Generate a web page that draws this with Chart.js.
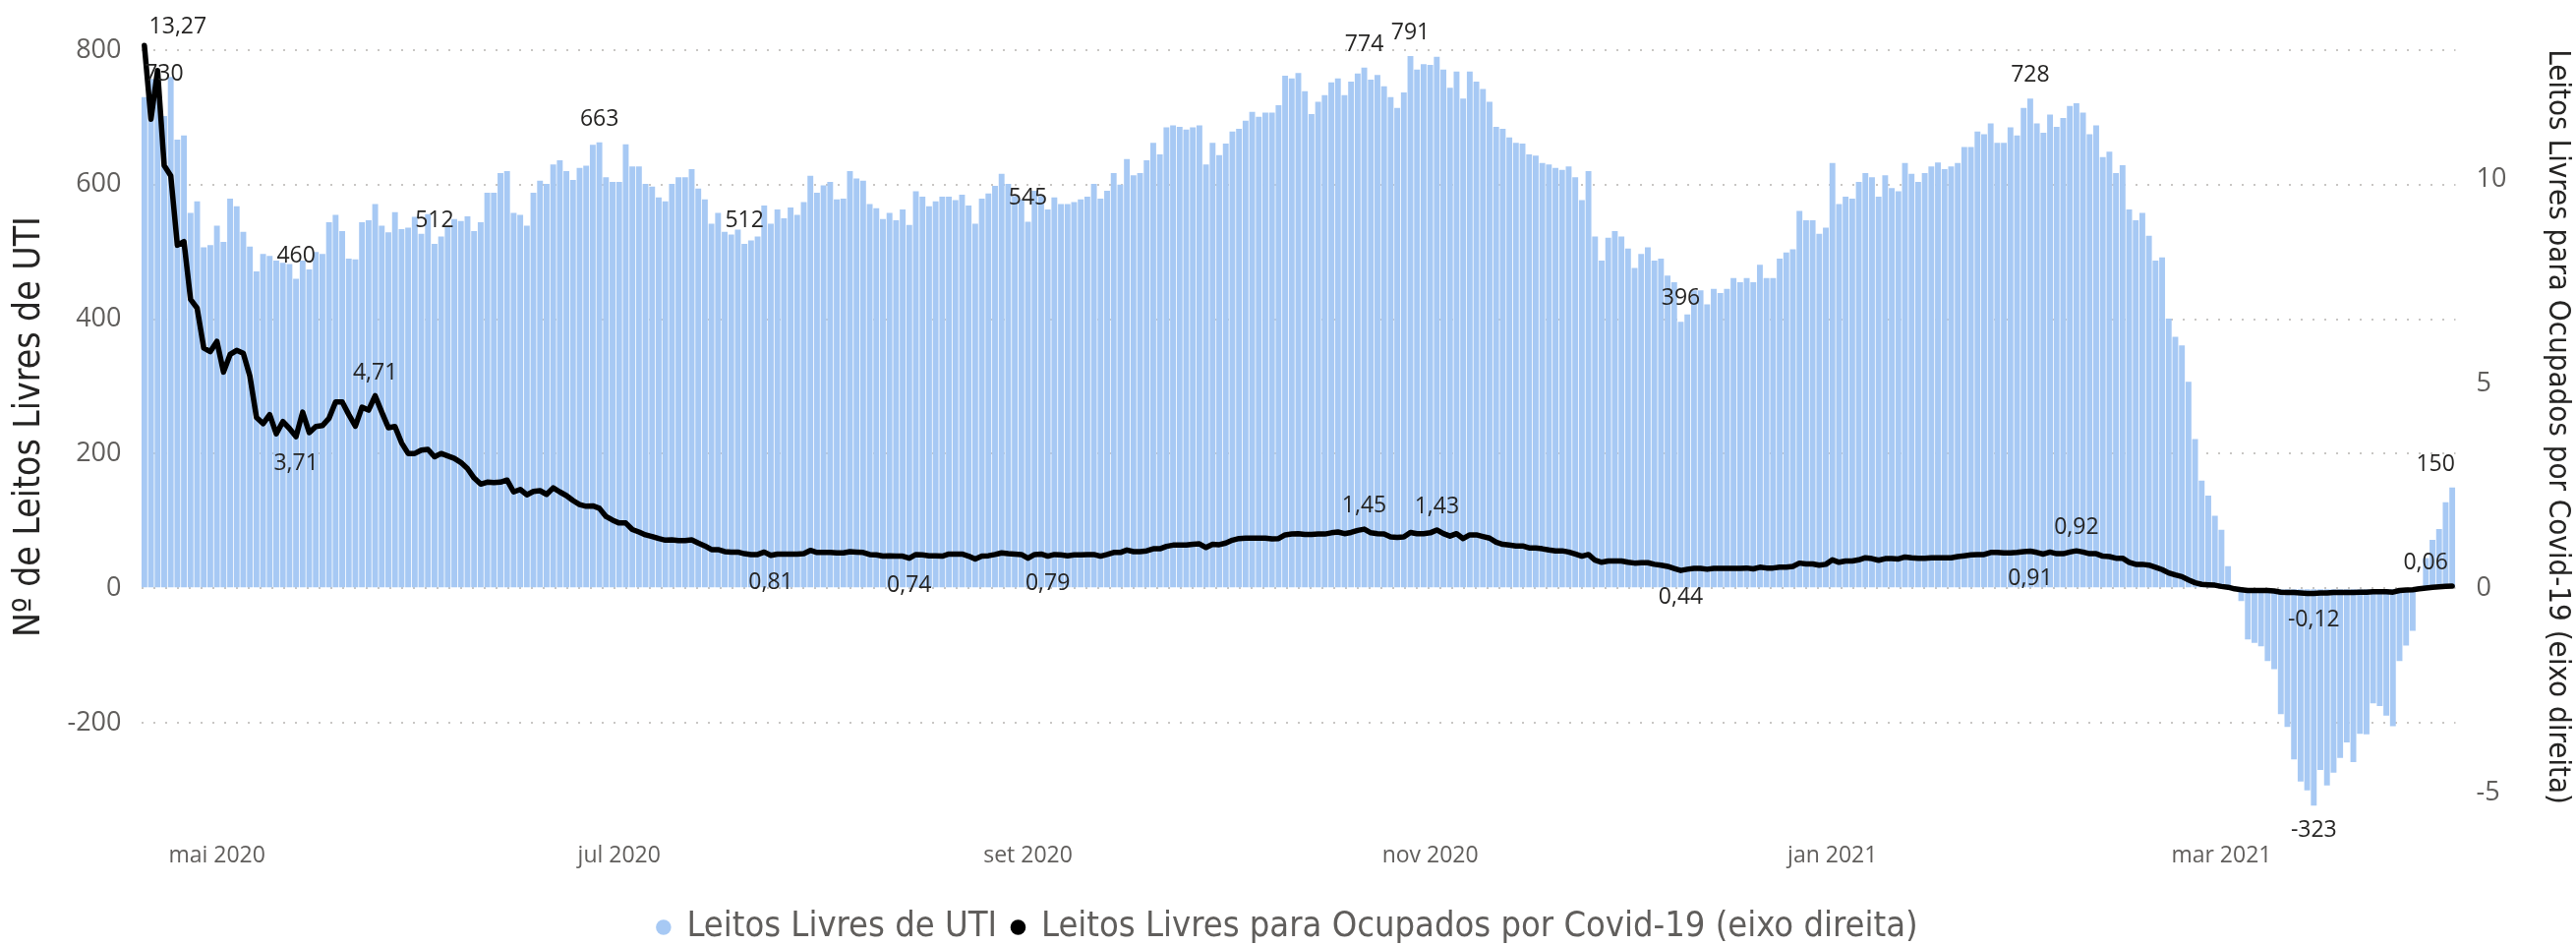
<!DOCTYPE html>
<html>
<head>
<meta charset="utf-8">
<script src="https://cdn.jsdelivr.net/npm/chart.js@4.4.1/dist/chart.umd.min.js"></script>
<style>
  html, body { margin: 0; padding: 0; background: #fff; }
</style>
</head>
<body>
<canvas id="chart" width="2620" height="961"></canvas>
<script>
// daily series, one value per day starting at startDate
const startDate = '2020-04-20';

const leitosLivres = [
    730, 757, 745, 702, 760, 667, 673, 558, 575, 507,
    510, 539, 515, 579, 568, 530, 508, 471, 497, 494,
    487, 484, 482, 460, 487, 474, 500, 497, 544, 555,
    531, 490, 489, 544, 547, 571, 539, 529, 559, 534,
    536, 552, 527, 556, 512, 523, 537, 549, 546, 553,
    531, 544, 588, 588, 617, 620, 558, 555, 539, 588,
    606, 601, 630, 636, 620, 607, 625, 628, 659, 663,
    611, 604, 604, 660, 627, 627, 601, 597, 581, 575,
    601, 611, 611, 623, 594, 578, 542, 558, 530, 526,
    533, 512, 517, 523, 569, 542, 563, 550, 566, 555,
    574, 613, 588, 599, 604, 578, 579, 620, 609, 606,
    571, 565, 549, 558, 547, 563, 540, 590, 582, 568,
    575, 582, 582, 577, 585, 569, 542, 579, 587, 598,
    616, 601, 583, 578, 545, 591, 583, 563, 581, 571,
    571, 574, 578, 582, 601, 579, 591, 617, 600, 638,
    614, 617, 636, 662, 645, 685, 688, 686, 682, 685,
    688, 630, 662, 644, 661, 679, 683, 695, 708, 701,
    707, 707, 718, 762, 758, 766, 739, 705, 723, 733,
    752, 758, 733, 753, 765, 774, 756, 763, 746, 730,
    714, 737, 791, 771, 779, 778, 790, 771, 744, 768,
    728, 768, 753, 742, 723, 686, 683, 670, 662, 661,
    645, 643, 632, 630, 625, 622, 627, 611, 577, 620,
    523, 487, 521, 531, 523, 505, 476, 497, 507, 487,
    490, 465, 455, 396, 407, 443, 443, 422, 445, 439,
    445, 461, 455, 461, 455, 481, 461, 461, 490, 499,
    504, 561, 547, 547, 527, 536, 632, 571, 582, 579,
    604, 617, 611, 582, 614, 595, 590, 632, 616, 604,
    617, 627, 633, 623, 627, 632, 656, 656, 679, 675,
    691, 662, 662, 685, 673, 714, 728, 691, 677, 704,
    686, 699, 717, 721, 707, 675, 688, 641, 649, 617,
    629, 563, 547, 558, 524, 487, 492, 401, 374, 361,
    307, 222, 160, 138, 108, 87, 33, 2, -19, -76,
    -81, -86, -108, -120, -187, -206, -254, -287, -300, -323,
    -270, -293, -274, -252, -229, -258, -216, -217, -171, -175,
    -189, -205, -108, -85, -63, 3, 45, 72, 88, 128,
    150
];

const livresPorOcupados = [
    13.27, 11.47, 12.66, 10.34, 10.09, 8.39, 8.48, 7.07, 6.85, 5.88,
    5.79, 6.04, 5.29, 5.72, 5.82, 5.75, 5.19, 4.18, 4.03, 4.25,
    3.78, 4.08, 3.91, 3.71, 4.31, 3.81, 3.96, 3.98, 4.16, 4.56,
    4.56, 4.25, 3.97, 4.43, 4.36, 4.71, 4.31, 3.93, 3.96, 3.56,
    3.30, 3.30, 3.38, 3.40, 3.22, 3.30, 3.24, 3.18, 3.08, 2.93,
    2.70, 2.55, 2.60, 2.59, 2.60, 2.65, 2.36, 2.42, 2.29, 2.37,
    2.39, 2.30, 2.46, 2.36, 2.27, 2.15, 2.05, 2.01, 2.02, 1.96,
    1.76, 1.67, 1.60, 1.60, 1.44, 1.38, 1.31, 1.27, 1.22, 1.18,
    1.19, 1.17, 1.17, 1.19, 1.11, 1.04, 0.95, 0.95, 0.90, 0.89,
    0.89, 0.85, 0.83, 0.83, 0.89, 0.81, 0.84, 0.84, 0.84, 0.84,
    0.85, 0.93, 0.88, 0.88, 0.88, 0.87, 0.87, 0.90, 0.89, 0.88,
    0.83, 0.82, 0.79, 0.80, 0.79, 0.79, 0.74, 0.83, 0.82, 0.80,
    0.80, 0.79, 0.84, 0.84, 0.84, 0.79, 0.72, 0.79, 0.80, 0.83,
    0.87, 0.85, 0.84, 0.83, 0.74, 0.83, 0.84, 0.79, 0.83, 0.82,
    0.80, 0.82, 0.82, 0.83, 0.83, 0.79, 0.83, 0.88, 0.88, 0.94,
    0.90, 0.90, 0.92, 0.97, 0.97, 1.03, 1.06, 1.06, 1.06, 1.08,
    1.09, 1.00, 1.08, 1.07, 1.11, 1.18, 1.22, 1.23, 1.23, 1.23,
    1.23, 1.21, 1.22, 1.31, 1.33, 1.34, 1.32, 1.32, 1.33, 1.33,
    1.36, 1.38, 1.34, 1.37, 1.42, 1.45, 1.36, 1.34, 1.33, 1.26,
    1.25, 1.26, 1.37, 1.34, 1.34, 1.36, 1.43, 1.34, 1.28, 1.34,
    1.22, 1.31, 1.31, 1.27, 1.23, 1.13, 1.08, 1.06, 1.04, 1.04,
    0.99, 0.99, 0.97, 0.94, 0.92, 0.92, 0.89, 0.84, 0.79, 0.83,
    0.69, 0.64, 0.67, 0.67, 0.67, 0.64, 0.62, 0.63, 0.63, 0.59,
    0.57, 0.54, 0.49, 0.44, 0.47, 0.49, 0.49, 0.47, 0.49, 0.49,
    0.49, 0.49, 0.49, 0.50, 0.48, 0.52, 0.50, 0.50, 0.52, 0.52,
    0.54, 0.62, 0.60, 0.60, 0.57, 0.59, 0.70, 0.64, 0.67, 0.67,
    0.70, 0.75, 0.73, 0.69, 0.73, 0.73, 0.72, 0.77, 0.75, 0.74,
    0.74, 0.75, 0.75, 0.75, 0.75, 0.78, 0.80, 0.82, 0.83, 0.83,
    0.88, 0.88, 0.87, 0.87, 0.88, 0.90, 0.91, 0.88, 0.84, 0.89,
    0.85, 0.85, 0.89, 0.92, 0.89, 0.85, 0.85, 0.79, 0.78, 0.74,
    0.74, 0.64, 0.59, 0.59, 0.57, 0.52, 0.46, 0.38, 0.33, 0.29,
    0.21, 0.14, 0.10, 0.09, 0.08, 0.05, 0.03, -0.01, -0.03, -0.05,
    -0.05, -0.05, -0.05, -0.06, -0.09, -0.10, -0.10, -0.11, -0.12, -0.12,
    -0.11, -0.11, -0.10, -0.10, -0.10, -0.10, -0.09, -0.09, -0.08, -0.08,
    -0.08, -0.09, -0.05, -0.04, -0.03, -0.01, 0.01, 0.03, 0.04, 0.05,
    0.06
];

// month tick labels (pt-BR), keyed by the first day of the month
const monthTicks = {
    '2020-05-01': 'mai 2020',
    '2020-07-01': 'jul 2020',
    '2020-09-01': 'set 2020',
    '2020-11-01': 'nov 2020',
    '2021-01-01': 'jan 2021',
    '2021-03-01': 'mar 2021'
};
const leftTicks = [-200, 0, 200, 400, 600, 800];
const rightTicks = [-5, 0, 5, 10];

// which days get a data label
const barLabelIdx = [0, 23, 44, 69, 91, 134, 185, 192, 233, 286, 329, 350];
const lineLabelIdx = [0, 23, 35, 95, 116, 137, 185, 196, 233, 286, 293, 329, 350];

const days = [];
const t0 = Date.parse(startDate + 'T00:00:00Z');
for (let i = 0; i < leitosLivres.length; i++) {
    days.push(new Date(t0 + i * 86400000).toISOString().slice(0, 10));
}

const TICK_FONT = '"Open Sans", "Noto Sans", sans-serif';
const TITLE_FONT = '"Liberation Sans Narrow", "DejaVu Sans Condensed", sans-serif';
const GREY = '#605e5c';

// label placement tweaks (where Power BI nudged them)
const barLabelStyle = { 0: { dx: 20 }, 329: { below: true }, 350: { dx: -17 } };
const lineLabelStyle = {
    0: { dx: 34, gap: 7 }, 23: { below: true }, 95: { below: true }, 116: { below: true },
    137: { below: true }, 233: { below: true }, 286: { below: true }, 329: { below: true },
    350: { dx: -27 }
};

const fmtLine = v => v.toFixed(2).replace('.', ',');

const valueLabels = {
    id: 'valueLabels',
    afterDatasetsDraw(chart) {
        const ctx = chart.ctx;
        const barMeta = chart.getDatasetMeta(0);
        const lineMeta = chart.getDatasetMeta(1);
        ctx.save();
        ctx.font = '23px ' + TICK_FONT;
        ctx.fillStyle = '#252423';
        ctx.textAlign = 'center';
        barLabelIdx.forEach(i => {
            const el = barMeta.data[i];
            const st = barLabelStyle[i] || {};
            const x = el.x + (st.dx || 0);
            if (st.below) {
                ctx.textBaseline = 'top';
                ctx.fillText(String(leitosLivres[i]), x, el.y + 14);
            } else {
                ctx.textBaseline = 'bottom';
                ctx.fillText(String(leitosLivres[i]), x, el.y - 12);
            }
        });
        lineLabelIdx.forEach(i => {
            const pt = lineMeta.data[i];
            const st = lineLabelStyle[i] || {};
            const x = pt.x + (st.dx || 0);
            if (st.below) {
                ctx.textBaseline = 'top';
                ctx.fillText(fmtLine(livresPorOcupados[i]), x, pt.y + 16);
            } else {
                ctx.textBaseline = 'bottom';
                ctx.fillText(fmtLine(livresPorOcupados[i]), x, pt.y - (st.gap || 12));
            }
        });
        ctx.restore();
    }
};

// shrink the legend box so it sits close to the bottom edge
const legendFit = {
    id: 'legendFit',
    beforeInit(chart) {
        const fit = chart.legend.fit;
        chart.legend.fit = function () {
            fit.call(this);
            this.height = 52;
        };
    }
};

const ctx = document.getElementById('chart');
const myChart = new Chart(ctx, {
    type: 'bar',
    data: {
        labels: days,
        datasets: [
            {
                type: 'bar',
                label: 'Leitos Livres de UTI',
                data: leitosLivres,
                backgroundColor: '#a7c9f4',
                borderWidth: 0,
                categoryPercentage: 1,
                barPercentage: 0.88,
                yAxisID: 'y',
                order: 2
            },
            {
                type: 'line',
                label: 'Leitos Livres para Ocupados por Covid-19 (eixo direita)',
                data: livresPorOcupados,
                borderColor: '#000',
                backgroundColor: '#000',
                borderWidth: 5.5,
                pointRadius: 0,
                pointStyle: 'circle',
                tension: 0,
                borderJoinStyle: 'round',
                borderCapStyle: 'round',
                clip: false,
                yAxisID: 'y1',
                order: 1
            }
        ]
    },
    options: {
        responsive: false,
        animation: false,
        layout: { padding: { top: 30, left: 0, right: 0, bottom: 0 } },
        scales: {
            x: {
                offset: true,
                grid: { display: false, drawTicks: false },
                border: { display: false },
                ticks: {
                    autoSkip: false,
                    maxRotation: 0,
                    minRotation: 0,
                    padding: 26,
                    color: GREY,
                    font: { family: TICK_FONT, size: 23 },
                    callback: (v, i) => monthTicks[days[i]] ?? null
                },
                afterFit: s => { s.height = 78; }
            },
            y: {
                position: 'left',
                min: -340,
                max: 820,
                afterBuildTicks: s => { s.ticks = leftTicks.map(v => ({ value: v })); },
                ticks: {
                    padding: 20,
                    color: GREY,
                    font: { family: TICK_FONT, size: 27 }
                },
                grid: { color: '#c8c6c4', lineWidth: 2, drawTicks: false },
                border: { display: false, dash: [2, 10] },
                title: {
                    display: true,
                    text: 'Nº de Leitos Livres de UTI',
                    color: '#252423',
                    font: { family: TITLE_FONT, size: 37 },
                    padding: { top: 8, bottom: 0 }
                },
                afterFit: s => { s.width = 143.5; }
            },
            y1: {
                position: 'right',
                min: -5.59,
                max: 13.49,
                afterBuildTicks: s => { s.ticks = rightTicks.map(v => ({ value: v })); },
                ticks: {
                    padding: 21,
                    color: GREY,
                    font: { family: TICK_FONT, size: 27 }
                },
                grid: { display: false, drawTicks: false },
                border: { display: false },
                title: {
                    display: true,
                    text: 'Leitos Livres para Ocupados por Covid-19 (eixo direita)',
                    color: '#252423',
                    font: { family: TITLE_FONT, size: 31 },
                    padding: { top: 0, bottom: 0 }
                },
                afterFit: s => { s.width = 122.5; }
            }
        },
        plugins: {
            legend: {
                position: 'bottom',
                labels: {
                    usePointStyle: true,
                    boxWidth: 11,
                    boxHeight: 11,
                    padding: 16,
                    color: GREY,
                    font: { family: TITLE_FONT, size: 36 },
                    sort: (a, b) => a.datasetIndex - b.datasetIndex,
                    generateLabels: chart => {
                        const items = Chart.defaults.plugins.legend.labels.generateLabels(chart);
                        items.forEach(it => {
                            it.pointStyle = 'circle';
                            it.lineWidth = 0;
                            it.strokeStyle = 'rgba(0,0,0,0)';
                        });
                        return items;
                    }
                }
            },
            tooltip: { enabled: false }
        }
    },
    plugins: [valueLabels, legendFit]
});
</script>
</body>
</html>
